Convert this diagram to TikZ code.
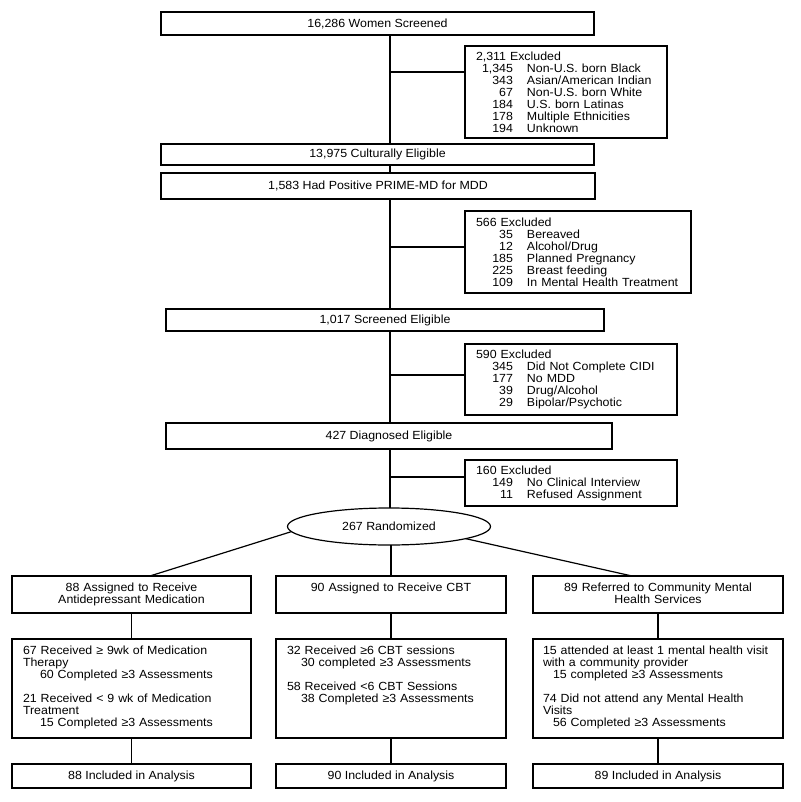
\documentclass[tikz,border=0pt]{standalone}
\usepackage{fontspec}
\setmainfont{Liberation Sans}[FakeStretch=1.05]
\usetikzlibrary{shapes.geometric,calc}
\newcommand\fsz{\fontsize{11.8}{12}\selectfont\lineskiplimit=-20pt\relax}
\newcommand\exr[2]{\mbox{\makebox[37pt][r]{#1}\hspace{14pt}#2}}
\newcommand\oneline[1]{\mbox{#1}}
\begin{document}
\begin{tikzpicture}[x=1pt,y=-1pt,
  every node/.style={font=\fsz, inner sep=0pt, outer sep=0pt, text=black},
  box/.style={draw=black, line width=1.2pt, rectangle, anchor=north west},
  exbox/.style={box, align=left, inner xsep=11pt},
  topbox/.style={box, inner xsep=11pt, inner ysep=0pt},
  conn/.style={draw=black, line width=1.2pt}]
\useasboundingbox[fill=white] (0,0) rectangle (800,802);
\coordinate (spine) at (390,0);
% main column
\node[box, minimum width=433pt, minimum height=23pt] (b1) at (161,12) {16,286 Women Screened};
\node[box, minimum width=433pt, minimum height=21pt] (b2) at (161,144) {13,975 Culturally Eligible};
\node[box, minimum width=434pt, minimum height=26pt] (b3) at (161,173) {1,583 Had Positive PRIME-MD for MDD};
\node[box, minimum width=438pt, minimum height=22pt] (b4) at (166,309) {1,017 Screened Eligible};
\node[box, minimum width=446pt, minimum height=26pt] (b5) at (166,423) {427 Diagnosed Eligible};
% exclusion boxes
\node[exbox, text width=180pt, minimum width=202pt, minimum height=92pt] (e1) at (465,46)
  {\oneline{2,311 Excluded}\\
   \exr{1,345}{Non-U.S. born Black}\\
   \exr{343}{Asian/American Indian}\\
   \exr{67}{Non-U.S. born White}\\
   \exr{184}{U.S. born Latinas}\\
   \exr{178}{Multiple Ethnicities}\\
   \exr{194}{Unknown}};
\node[exbox, text width=204pt, minimum width=226pt, minimum height=82pt] (e2) at (465,211)
  {\oneline{566 Excluded}\\
   \exr{35}{Bereaved}\\
   \exr{12}{Alcohol/Drug}\\
   \exr{185}{Planned Pregnancy}\\
   \exr{225}{Breast feeding}\\
   \exr{109}{In Mental Health Treatment}};
\node[exbox, text width=190pt, minimum width=212pt, minimum height=71pt] (e3) at (465,344)
  {\oneline{590 Excluded}\\
   \exr{345}{Did Not Complete CIDI}\\
   \exr{177}{No MDD}\\
   \exr{39}{Drug/Alcohol}\\
   \exr{29}{Bipolar/Psychotic}};
\node[exbox, text width=190pt, minimum width=212pt, minimum height=46pt] (e4) at (465,460)
  {\oneline{160 Excluded}\\
   \exr{149}{No Clinical Interview}\\
   \exr{11}{Refused Assignment}};
% randomization
\node[draw=black, line width=1.2pt, ellipse, minimum width=203pt, minimum height=37pt] (rand) at (389,526.5) {267 Randomized};
% arms: assignment
\node[topbox, align=center, text width=217pt, minimum width=239pt, text height=15pt, text depth=22pt] (L1) at (12,576)
  {88 Assigned to Receive\\Antidepressant Medication};
\node[topbox, align=center, text width=208pt, minimum width=230pt, text height=15pt, text depth=22pt] (M1) at (276,576)
  {90 Assigned to Receive CBT};
\node[topbox, align=center, text width=228pt, minimum width=250pt, text height=15pt, text depth=22pt] (R1) at (533,576)
  {89 Referred to Community Mental\\Health Services};
% arms: treatment received
\node[topbox, align=left, text width=217pt, minimum width=239pt, text height=15pt, text depth=84pt] (L2) at (12,639)
  {\oneline{67 Received ≥ 9wk of Medication}\\
   \oneline{Therapy}\\
   \oneline{\hspace*{17pt}60 Completed ≥3 Assessments}\\[12pt]
   \oneline{21 Received < 9 wk of Medication}\\
   \oneline{Treatment}\\
   \oneline{\hspace*{17pt}15 Completed ≥3 Assessments}};
\node[topbox, align=left, text width=208pt, minimum width=230pt, text height=15pt, text depth=84pt] (M2) at (276,639)
  {\oneline{32 Received ≥6 CBT sessions}\\
   \oneline{\hspace*{14pt}30 completed ≥3 Assessments}\\[12pt]
   \oneline{58 Received <6 CBT Sessions}\\
   \oneline{\hspace*{14pt}38 Completed ≥3 Assessments}};
\node[topbox, align=left, inner xsep=10pt, text width=230pt, minimum width=250pt, text height=15pt, text depth=84pt] (R2) at (533,639)
  {\oneline{15 attended at least 1 mental health visit}\\
   \oneline{with a community provider}\\
   \oneline{\hspace*{10pt}15 completed ≥3 Assessments}\\[12pt]
   \oneline{74 Did not attend any Mental Health}\\
   \oneline{Visits}\\
   \oneline{\hspace*{10pt}56 Completed ≥3 Assessments}};
% arms: analysis
\node[box, minimum width=239pt, minimum height=24pt] (L3) at (12,764) {88 Included in Analysis};
\node[box, minimum width=230pt, minimum height=24pt] (M3) at (276,764) {90 Included in Analysis};
\node[box, minimum width=250pt, minimum height=24pt] (R3) at (533,764) {89 Included in Analysis};
% spine connectors
\draw[conn] (b1.south -| spine) -- (b2.north -| spine);
\draw[conn] (b2.south -| spine) -- (b3.north -| spine);
\draw[conn] (b3.south -| spine) -- (b4.north -| spine);
\draw[conn] (b4.south -| spine) -- (b5.north -| spine);
\draw[conn] (b5.south -| spine) -- (rand.north -| spine);
% exclusion branches
\coordinate (j1) at ($(e1.north west)+(0,26)$);
\coordinate (j2) at ($(e2.north west)+(0,36)$);
\coordinate (j3) at ($(e3.north west)+(0,31)$);
\coordinate (j4) at ($(e4.north west)+(0,17)$);
\draw[conn] (j1 -| spine) -- (j1);
\draw[conn] (j2 -| spine) -- (j2);
\draw[conn] (j3 -| spine) -- (j3);
\draw[conn] (j4 -| spine) -- (j4);
% randomization to arms
\draw[conn] (rand.183) -- ($(L1.north west)!0.577!(L1.north east)$);
\draw[conn] (rand.south -| M1.north) -- (M1.north);
\draw[conn] (rand.351) -- ($(R1.north west)!0.396!(R1.north east)$);
% arm columns
\draw[conn] (L1) -- (L2);
\draw[conn] (L2) -- (L3);
\draw[conn] (M1) -- (M2);
\draw[conn] (M2) -- (M3);
\draw[conn] (R1) -- (R2);
\draw[conn] (R2) -- (R3);
\end{tikzpicture}
\end{document}
